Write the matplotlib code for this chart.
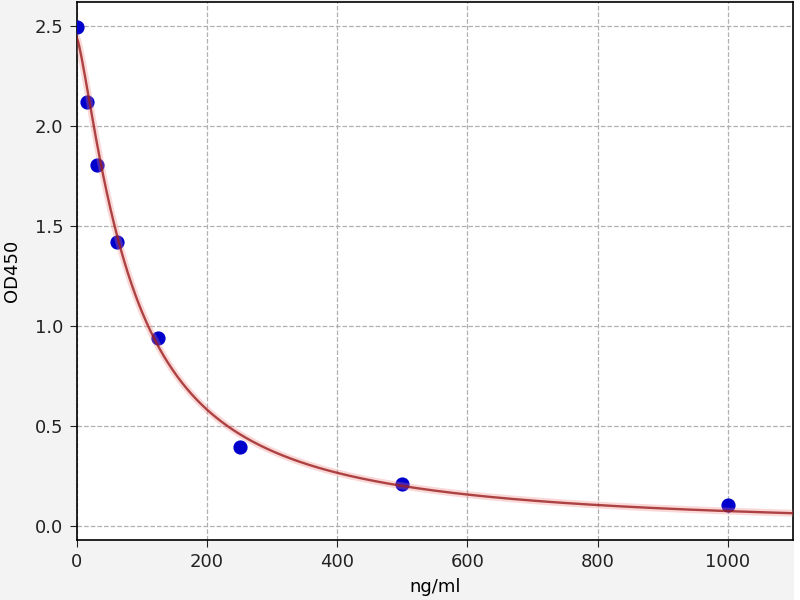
import numpy as np
import matplotlib
matplotlib.use("Agg")
import matplotlib.pyplot as plt

# standard concentrations (ng/ml) and measured OD450
conc = [0, 15.6, 31.25, 62.5, 125, 250, 500, 1000]
od450 = [2.495, 2.12, 1.805, 1.42, 0.94, 0.395, 0.21, 0.105]

# 4PL fit parameters
fit_a = 2.44   # response at zero
fit_d = -0.02  # response at infinity
fit_c = 84.0   # inflection
fit_b = 1.3    # slope

x_ticks = [0, 200, 400, 600, 800, 1000]
y_ticks = [0.0, 0.5, 1.0, 1.5, 2.0, 2.5]


def four_pl(x):
    return fit_d + (fit_a - fit_d) / (1 + (x / fit_c) ** fit_b)


fig = plt.figure(figsize=(8, 6), dpi=100, facecolor="#f3f3f3")
# thin white strip at the right edge of the original image
fig.patches.append(plt.Rectangle((0.993, 0), 0.007, 1, transform=fig.transFigure,
                                 facecolor="white", edgecolor="none"))
ax = fig.add_axes([0.096, 0.1, 0.895, 0.897])
ax.set_facecolor("white")

xs = np.linspace(0, 1100, 600)
ax.scatter(conc, od450, s=85, color="#0000cc", zorder=3)
ax.plot(xs, four_pl(xs), color="#f08080", linewidth=5, alpha=0.3, zorder=4)
ax.plot(xs, four_pl(xs), color="#9a1c1c", linewidth=1.7, alpha=0.8, zorder=5)

ax.set_xlim(0, 1100)
ax.set_ylim(-0.07, 2.62)
ax.set_xticks(x_ticks)
ax.set_yticks(y_ticks)
ax.grid(True, linestyle="--", color="#b0b0b0", linewidth=0.9)
ax.set_axisbelow(True)
ax.set_xlabel("ng/ml", fontsize=13)
ax.set_ylabel("OD450", fontsize=13)
ax.xaxis.set_label_coords(0.5, -0.071)
ax.yaxis.set_label_coords(-0.078, 0.5)
ax.tick_params(labelsize=13, colors="#222222", length=5, pad=4.5)
for spine in ax.spines.values():
    spine.set_linewidth(1.2)

fig.savefig("out.png", dpi=100, facecolor=fig.get_facecolor())
